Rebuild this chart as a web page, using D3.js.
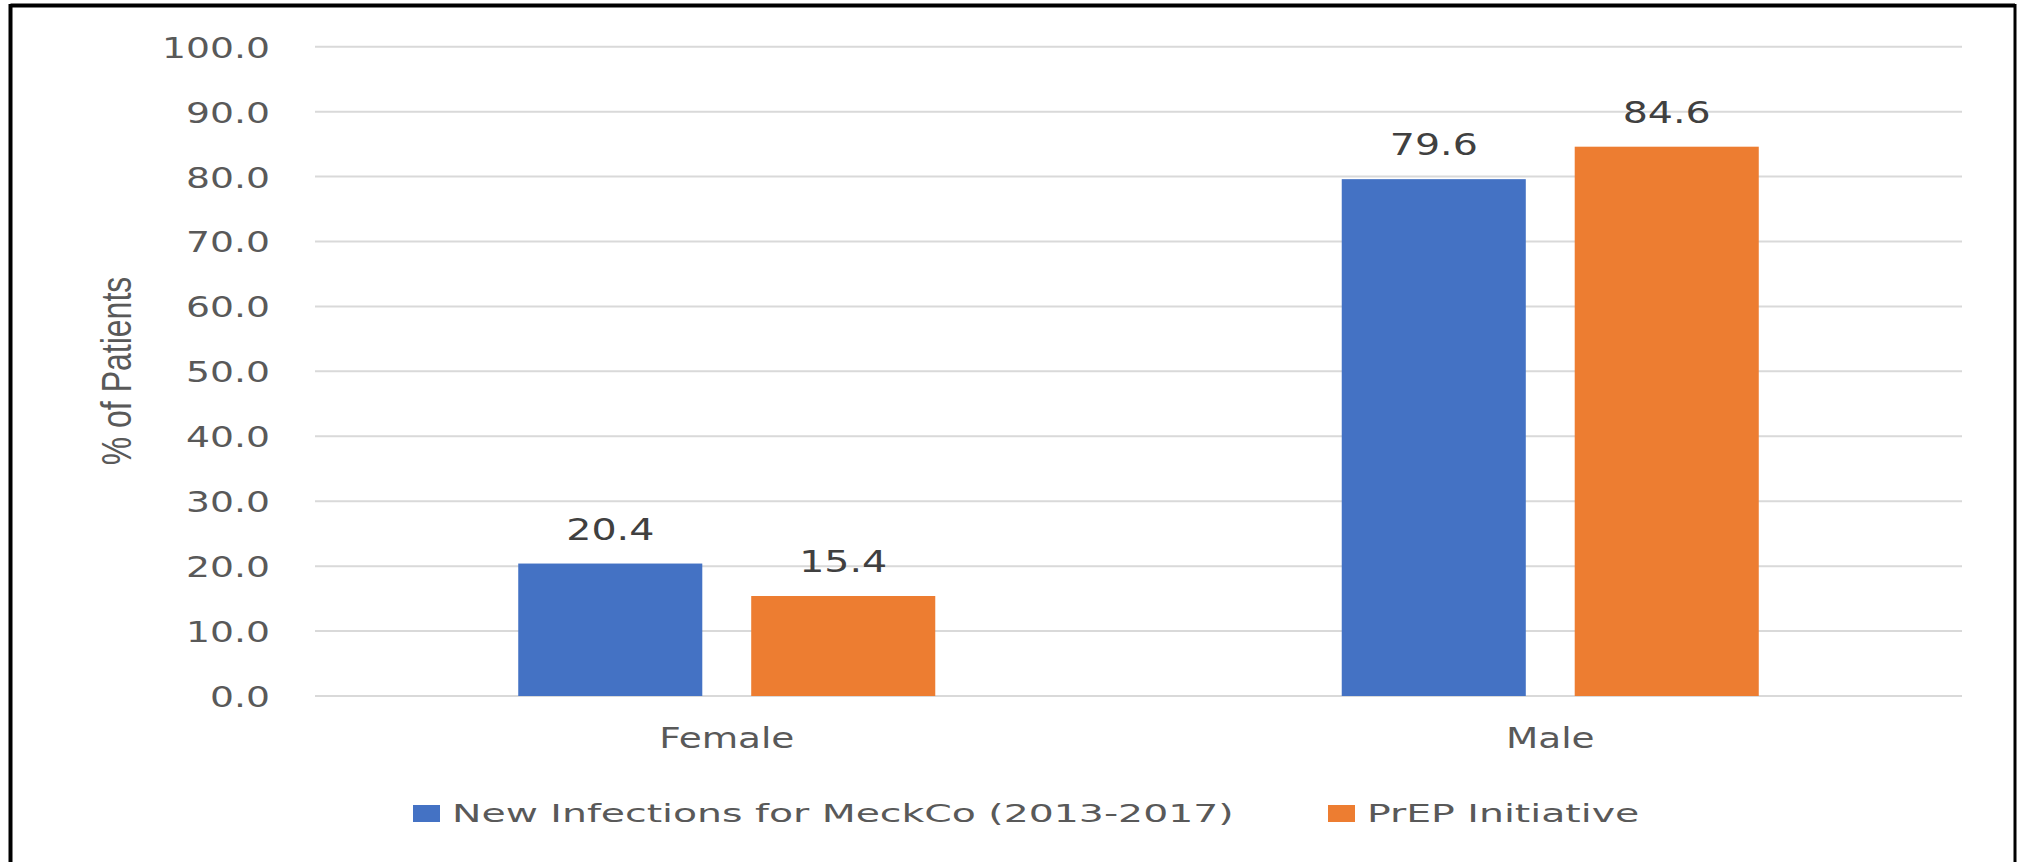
<!DOCTYPE html>
<html>
<head>
<meta charset="utf-8">
<script src="https://cdn.jsdelivr.net/npm/d3@7"></script>
<style>
  html, body { margin: 0; padding: 0; background: #fff; }
  svg { display: block; }
</style>
</head>
<body>
<svg id="chart" width="2018" height="862"></svg>
<script>
// ---- data ----
const categories = ["Female", "Male"];
const seriesNames = ["New Infections for MeckCo (2013-2017)", "PrEP Initiative"];
const newInfections = [20.4, 79.6];
const prepInitiative = [15.4, 84.6];
const yTicks = [0, 10, 20, 30, 40, 50, 60, 70, 80, 90, 100];
const yTitle = "% of Patients";

const seriesValues = [newInfections, prepInitiative];
const colors = ["#4472C4", "#ED7D31"];
const textColor = "#595959";

const svg = d3.select("#chart");
const W = 2018, H = 862;

// border (top, left, right)
svg.append("line").attr("x1", 10.5).attr("y1", 5.5).attr("x2", 2015).attr("y2", 5.5)
  .attr("stroke", "#000").attr("stroke-width", 4);
svg.append("line").attr("x1", 10.5).attr("y1", 4).attr("x2", 10.5).attr("y2", H)
  .attr("stroke", "#000").attr("stroke-width", 4);
svg.append("line").attr("x1", 2015).attr("y1", 4).attr("x2", 2015).attr("y2", H)
  .attr("stroke", "#000").attr("stroke-width", 3);

const plot = { left: 315, right: 1962, top: 46.7, bottom: 696 };

const y = d3.scaleLinear().domain([0, 100]).range([plot.bottom, plot.top]);
const x0 = d3.scaleBand().domain(categories).range([plot.left, plot.right])
  .paddingInner(0.4936).paddingOuter(0.2468);
const x1 = d3.scaleBand().domain(d3.range(seriesNames.length)).range([0, x0.bandwidth()])
  .paddingInner(0.21).paddingOuter(0);

// gridlines
svg.append("g")
  .selectAll("line").data(yTicks).join("line")
  .attr("x1", plot.left).attr("x2", plot.right)
  .attr("y1", d => y(d)).attr("y2", d => y(d))
  .attr("stroke", "#d9d9d9").attr("stroke-width", 2);

// y axis labels via d3 axis
const sxTick = 1.3;
const yAxis = svg.append("g").attr("transform", `translate(${plot.left},0)`)
  .call(d3.axisLeft(y).tickValues(yTicks).tickFormat(d3.format(".1f")).tickSize(0));
yAxis.select(".domain").remove();
yAxis.selectAll("text")
  .attr("x", -45 / sxTick)
  .attr("dy", "0.36em")
  .attr("transform", `scale(${sxTick},1)`)
  .attr("fill", textColor)
  .style("font-family", "'DejaVu Sans', Verdana, sans-serif")
  .style("font-size", "29px");

// y axis title
svg.append("text")
  .attr("transform", `translate(131,371) scale(1.3,1) rotate(-90)`)
  .attr("text-anchor", "middle")
  .attr("fill", textColor)
  .style("font-family", "'Liberation Sans', Arial, sans-serif")
  .style("font-size", "32px")
  .text(yTitle);

// bars
const groups = svg.append("g").selectAll("g").data(categories).join("g")
  .attr("transform", d => `translate(${x0(d)},0)`);

groups.selectAll("rect")
  .data((c, ci) => seriesValues.map((s, si) => ({ si, v: s[ci] })))
  .join("rect")
  .attr("x", d => x1(d.si))
  .attr("width", x1.bandwidth())
  .attr("y", d => y(d.v))
  .attr("height", d => y(0) - y(d.v))
  .attr("fill", d => colors[d.si]);

// value labels
const sxVal = 1.32;
groups.selectAll("g.lbl")
  .data((c, ci) => seriesValues.map((s, si) => ({ si, v: s[ci] })))
  .join("g").attr("class", "lbl")
  .attr("transform", d => `translate(${x1(d.si) + x1.bandwidth() / 2},${y(d.v) - 24}) scale(${sxVal},1)`)
  .append("text")
  .attr("text-anchor", "middle")
  .attr("fill", "#404040")
  .style("font-family", "'DejaVu Sans', Verdana, sans-serif")
  .style("font-size", "30px")
  .text(d => d3.format(".1f")(d.v));

// x axis labels via d3 axis
const sxCat = 1.36;
const xAxis = svg.append("g").attr("transform", `translate(0,${plot.bottom})`)
  .call(d3.axisBottom(x0).tickSize(0));
xAxis.select(".domain").remove();
xAxis.selectAll("text")
  .attr("y", 52.5)
  .attr("dy", 0)
  .attr("transform", `scale(${sxCat},1)`)
  .attr("fill", textColor)
  .style("font-family", "'DejaVu Sans', Verdana, sans-serif")
  .style("font-size", "27.5px");

// legend
const sxLeg = 1.575;
const legendX = [413, 1328];
const leg = svg.append("g").selectAll("g").data(seriesNames).join("g")
  .attr("transform", (d, i) => `translate(${legendX[i]},0)`);
leg.append("rect")
  .attr("x", 0).attr("y", 805).attr("width", 27).attr("height", 17)
  .attr("fill", (d, i) => colors[i]);
leg.append("text")
  .attr("transform", `translate(39,821.5) scale(${sxLeg},1)`)
  .attr("fill", textColor)
  .style("font-family", "'DejaVu Sans', Verdana, sans-serif")
  .style("font-size", "25px")
  .text(d => d);
</script>
</body>
</html>
